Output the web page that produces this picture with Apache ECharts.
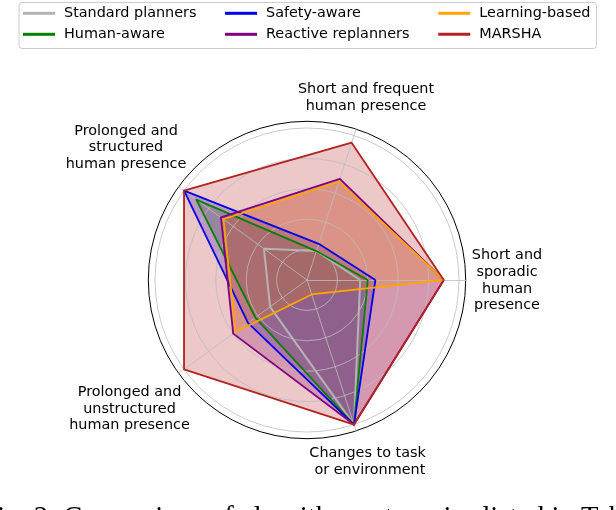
<!DOCTYPE html>
<html>
<head>
<meta charset="utf-8">
<script src="https://cdn.jsdelivr.net/npm/echarts@6/dist/echarts.min.js"></script>
<style>
html,body{margin:0;padding:0;background:#fff;}
#chart{width:616px;height:510px;}
</style>
</head>
<body>
<div id="chart"></div>
<script>
// ---- data ----
const categories = [
  'Short and sporadic human presence',
  'Short and frequent human presence',
  'Prolonged and structured human presence',
  'Prolonged and unstructured human presence',
  'Changes to task or environment'
];
const axisLabelTexts = [
  'Short and\nsporadic\nhuman\npresence',
  'Short and frequent\nhuman presence',
  'Prolonged and\nstructured\nhuman presence',
  'Prolonged and\nunstructured\nhuman presence',
  'Changes to task\n or environment'
];
const seriesNames = ['Standard planners', 'Human-aware', 'Safety-aware', 'Reactive replanners', 'Learning-based', 'MARSHA'];
const standardPlanners   = [0.35, 0.20, 0.35, 0.30, 1.00];
const humanAware         = [0.40, 0.20, 0.90, 0.42, 1.00];
const safetyAware        = [0.45, 0.25, 1.00, 0.48, 1.00];
const reactiveReplanners = [0.90, 0.70, 0.70, 0.60, 1.00];
const learningBased      = [0.90, 0.68, 0.68, 0.58, 0.10];
const marsha             = [0.90, 0.95, 1.00, 1.00, 1.00];
const captionText = 'Fig. 2: Comparison of algorithm categories listed in Table I.';

// ---- styles / layout ----
const seriesValues = [standardPlanners, humanAware, safetyAware, reactiveReplanners, learningBased, marsha];
const colors = ['#b4b4b4', '#008000', '#0000e6', '#800080', '#ffa500', '#b22222'];
const lineWidths = [2, 1.8, 1.8, 1.8, 1.8, 1.8];
const CENTER = [307, 280];
const R = 152;
const R_OUT = 158.7;
const labelPos = [[507, 280.5], [366, 97.5], [126, 147.7], [129.5, 409], [367.6, 462]];
const FONT = 'DejaVu Sans';
const FS = 14.4;

const chart = echarts.init(document.getElementById('chart'), null, {renderer: 'canvas'});

const indicators = categories.map(n => ({name: n, min: 0, max: 1}));

const fillData = seriesNames.map((name, i) => ({
  name: name,
  value: seriesValues[i],
  itemStyle: {color: colors[i]},
  lineStyle: {width: 0, opacity: 0},
  areaStyle: {color: colors[i], opacity: 0.25}
}));
const lineData = seriesNames.map((name, i) => ({
  name: name,
  value: seriesValues[i],
  itemStyle: {color: colors[i]},
  lineStyle: {color: colors[i], width: lineWidths[i], opacity: 1}
}));

const legendCols = [[seriesNames[0], seriesNames[1]], [seriesNames[2], seriesNames[3]], [seriesNames[4], seriesNames[5]]];
const legendLeft = [23, 225, 438.3];

const graphics = [
  {type: 'rect', left: 18.5, top: 2, shape: {width: 577.5, height: 46, r: 3},
   style: {fill: 'rgba(255,255,255,0.8)', stroke: '#cccccc', lineWidth: 1}, z: -1, silent: true},
  {type: 'text', x: -18.7, y: 518, silent: true,
   style: {text: captionText, fontFamily: 'Liberation Serif', fontSize: 28.6, fill: '#000',
           textAlign: 'left', textVerticalAlign: 'middle'}}
];
axisLabelTexts.forEach((t, i) => {
  graphics.push({type: 'text', x: labelPos[i][0], y: labelPos[i][1], silent: true,
    style: {text: t, fontFamily: FONT, fontSize: FS, lineHeight: 16.7, fill: '#000',
            textAlign: 'center', textVerticalAlign: 'middle', align: 'center', verticalAlign: 'middle'}});
});

const option = {
  animation: false,
  backgroundColor: '#ffffff',
  radar: [
    {
      center: CENTER, radius: R, startAngle: 0, shape: 'circle', splitNumber: 5, z: 2,
      indicator: indicators,
      axisName: {show: false},
      axisLine: {show: false},
      axisTick: {show: false},
      axisLabel: {show: false},
      splitArea: {show: false},
      splitLine: {show: true, lineStyle: {color: '#bdbdbd', width: 0.8}}
    },
    {
      center: CENTER, radius: R_OUT, startAngle: 0, shape: 'circle', splitNumber: 1, z: 2,
      indicator: indicators,
      axisName: {show: false},
      axisLine: {show: true, lineStyle: {color: '#bdbdbd', width: 0.8}},
      axisTick: {show: false},
      axisLabel: {show: false},
      splitArea: {show: false},
      splitLine: {show: true, lineStyle: {color: '#000000', width: 1}}
    }
  ],
  legend: legendCols.map((col, k) => ({
    data: col,
    orient: 'vertical',
    left: legendLeft[k],
    top: 5.3,
    padding: 0,
    itemGap: 5,
    itemWidth: 32,
    itemHeight: 3,
    icon: 'rect',
    selectedMode: false,
    textStyle: {fontFamily: FONT, fontSize: FS, color: '#000', lineHeight: 16, padding: [0, 0, 0, 4]}
  })),
  series: [
    {type: 'radar', radarIndex: 0, z: 1, symbol: 'none', silent: true, data: fillData},
    {type: 'radar', radarIndex: 0, z: 3, symbol: 'none', silent: true, data: lineData}
  ],
  graphic: graphics
};
chart.setOption(option);
</script>
</body>
</html>
